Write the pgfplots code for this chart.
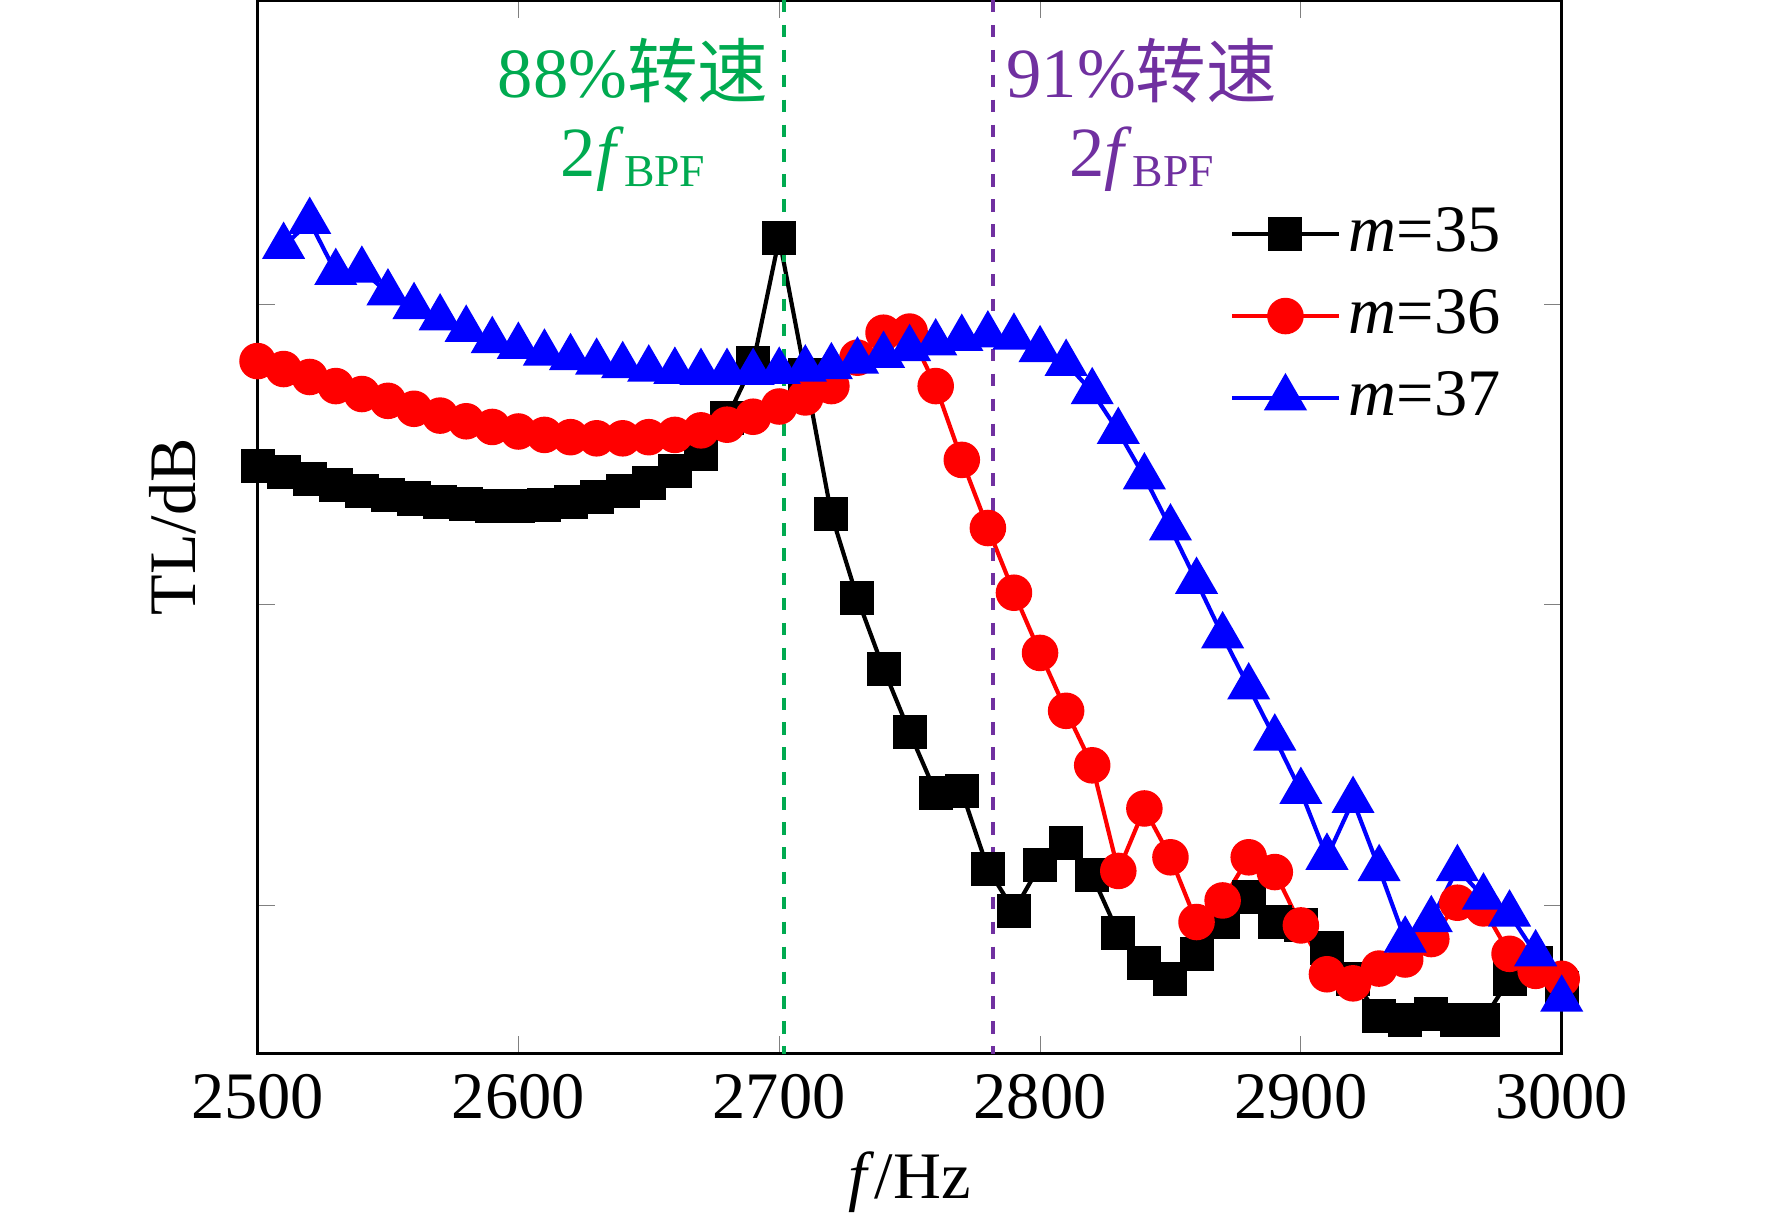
\documentclass[border=0pt]{standalone}
\usepackage{pgfplots}
\pgfplotsset{compat=1.18}
\usepackage{fontspec}
\setmainfont{Liberation Serif}
\newfontfamily\cjk{Noto Sans CJK SC}
\definecolor{myg}{RGB}{0,170,80}
\definecolor{myp}{RGB}{112,48,160}
\begin{document}
\fontsize{14}{16}\selectfont
\begin{tikzpicture}
\useasboundingbox (-2.18,-1.48) rectangle (12.82,8.92);
\begin{axis}[at={(0,0)},anchor=south west,scale only axis,width=11.04cm,height=8.92cm,
 xmin=2500,xmax=3000,ymin=0,ymax=928,y dir=reverse,
 xtick={2500,2600,...,3000},ytick={268,532,797},yticklabels={},
 tick align=inside,line width=0.8pt,
 /pgf/number format/assume math mode=true,/pgf/number format/1000 sep={},
 ticklabel style={font=\fontsize{16}{18}\selectfont},
 xlabel={\textit{f}/Hz},ylabel={TL/dB},
 label style={font=\fontsize{16}{18}\selectfont},
 xlabel style={yshift=2pt},
 legend style={draw=none,fill=none,at={(0.735,0.82)},anchor=north west,font=\fontsize{16}{18}\selectfont,row sep=3pt},
 legend image code/.code={\draw[mark repeat=2,mark phase=2,#1] plot coordinates {(0cm,0cm)(0.45cm,0cm)(0.9cm,0cm)};},
 legend cell align=left,
 clip=false]
\addplot[black,line width=1pt,mark=square*,mark size=3.6pt] coordinates {
(2500,410)(2510,416)(2520,422)(2530,427)(2540,432)(2550,436)(2560,439)(2570,442)(2580,444)(2590,446)
(2600,446)(2610,445)(2620,442)(2630,438)(2640,432)(2650,425)(2660,415)(2670,400)(2680,368)(2690,320)
(2700,210)(2710,330)(2720,453)(2730,527)(2740,589)(2750,645)(2760,698)(2770,697)(2780,765)(2790,802)
(2800,762)(2810,742)(2820,771)(2830,822)(2840,848)(2850,862)(2860,840)(2870,812)(2880,790)(2890,812)
(2900,815)(2910,835)(2920,862)(2930,895)(2940,898)(2950,893)(2960,898)(2970,898)(2980,862)(2990,848)(3000,870)};
\addlegendentry{\textit{m}=35}
\addplot[red,line width=1pt,mark=*,mark size=3.9pt] coordinates {
(2500,318)(2510,325)(2520,332)(2530,340)(2540,347)(2550,353)(2560,360)(2570,366)(2580,371)(2590,376)
(2600,380)(2610,383)(2620,385)(2630,386)(2640,386)(2650,385)(2660,383)(2670,379)(2680,374)(2690,367)
(2700,358)(2710,350)(2720,340)(2730,315)(2740,293)(2750,292)(2760,340)(2770,405)(2780,465)(2790,522)
(2800,575)(2810,626)(2820,674)(2830,767)(2840,712)(2850,755)(2860,812)(2870,793)(2880,755)(2890,768)
(2900,815)(2910,858)(2920,866)(2930,853)(2940,845)(2950,827)(2960,795)(2970,800)(2980,840)(2990,855)(3000,862)};
\addlegendentry{\textit{m}=36}
\addplot[blue,line width=1pt,mark=triangle*,mark size=5pt] coordinates {
(2510,217)(2520,195)(2530,240)(2540,238)(2550,258)(2560,270)(2570,280)(2580,290)(2590,300)
(2600,305)(2610,311)(2620,315)(2630,319)(2640,322)(2650,325)(2660,327)(2670,328)(2680,328)(2690,328)
(2700,327)(2710,325)(2720,323)(2730,318)(2740,313)(2750,307)(2760,302)(2770,298)(2780,295)(2790,297)
(2800,308)(2810,320)(2820,345)(2830,380)(2840,420)(2850,465)(2860,512)(2870,560)(2880,605)(2890,650)
(2900,697)(2910,755)(2920,705)(2930,765)(2940,828)(2950,810)(2960,765)(2970,790)(2980,805)(2990,840)(3000,880)};
\addlegendentry{\textit{m}=37}
\draw[myg,dashed,line width=1pt] (axis cs:2702,0) -- (axis cs:2702,928);
\draw[myp,dashed,line width=1pt] (axis cs:2782,0) -- (axis cs:2782,928);
\node[myg,font=\fontsize{17}{19}\selectfont] at (axis cs:2644,62) {88\%{\cjk 转速}};
\node[myg,font=\fontsize{17}{19}\selectfont] at (axis cs:2644,140) {2\textit{f}{\fontsize{11}{13}\selectfont\raisebox{-0.5ex}{BPF}}};
\node[myp,font=\fontsize{17}{19}\selectfont] at (axis cs:2839,62) {91\%{\cjk 转速}};
\node[myp,font=\fontsize{17}{19}\selectfont] at (axis cs:2839,140) {2\textit{f}{\fontsize{11}{13}\selectfont\raisebox{-0.5ex}{BPF}}};
\end{axis}
\end{tikzpicture}
\end{document}
